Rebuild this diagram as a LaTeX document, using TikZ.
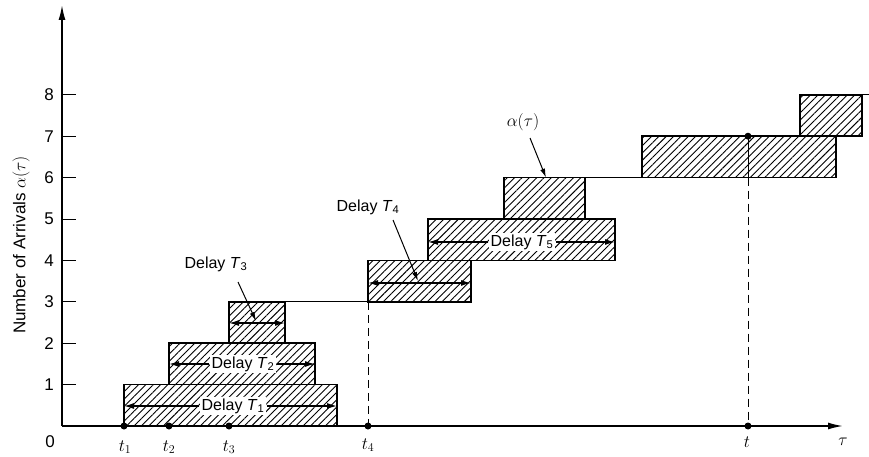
\documentclass[tikz,border=0pt]{standalone}
\usepackage{fontspec}
\setmainfont{Liberation Sans}
\usetikzlibrary{patterns.meta,arrows.meta}
\begin{document}
\begin{tikzpicture}[x=1pt,y=-1pt,
  hatchbox/.style={draw, line width=1.5pt, pattern={Lines[angle=45,distance=5.2pt,line width=0.9pt]}},
  stair/.style={line width=1.3pt},
  axis/.style={line width=1.6pt,-{Latex[length=15pt,width=7pt]}},
  tick/.style={line width=1pt},
  darrow/.style={line width=1.3pt,-{Latex[length=10pt,width=6pt]}},
  leader/.style={line width=1pt,-{Latex[length=9pt,width=5pt]}},
  lbl/.style={font=\fontsize{16}{18}\selectfont, inner sep=1pt},
  numlbl/.style={font=\fontsize{17}{19}\selectfont, inner sep=1pt},
  tlbl/.style={font=\fontsize{18}{20}\selectfont, inner sep=1pt},
  dlabel/.style={lbl, fill=white, inner sep=2pt},
  dot/.style={circle, fill=black, inner sep=0pt, minimum size=7pt},
  vdash/.style={line width=1pt, dash pattern=on 8pt off 5pt},
]
\useasboundingbox (0,0) rectangle (869,457);

% axes
\coordinate (O) at (62,426);
\coordinate (xend) at (843,426);
\coordinate (yend) at (62,5);
\draw[axis] (O) -- (xend);
\draw[axis] (O) -- (yend);

% ticks and labels
\foreach \n/\yy in {1/384.6,2/343.2,3/301.8,4/260.4,5/219,6/177.6,7/136.2,8/94.8}{
  \draw[tick] (62,\yy) -- (76,\yy);
  \node[numlbl] (n\n) at (49,\yy) {\n};
}
\node[numlbl] (n0) at (50,442) {0};
\node[numlbl, rotate=90] (ylab) at (21,245) {Number of Arrivals $\alpha(\tau)$};

% hatched boxes
\draw[hatchbox] (124,426) rectangle (337,384.6);
\draw[hatchbox] (169,384.6) rectangle (315,343.2);
\draw[hatchbox] (229,343.2) rectangle (285,301.8);
\draw[hatchbox] (368,301.8) rectangle (471,260.4);
\draw[hatchbox] (428,260.4) rectangle (615,219);
\draw[hatchbox] (504,219) rectangle (585,177.6);
\draw[hatchbox] (642,177.6) rectangle (836,136.2);
\draw[hatchbox] (800,136.2) rectangle (862,94.8);

% staircase connecting lines
\draw[stair] (285,301.8) -- (368,301.8);
\draw[stair] (585,177.6) -- (642,177.6);
\draw[stair] (862,94.8) -- (869,94.8);

% dashed verticals
\draw[vdash] (368,301.8) -- (368,426);
\draw[line width=1pt] (748,136.2) -- (748,177.6);
\draw[vdash] (748,177.6) -- (748,426);

% dots
\node[dot] (p1) at (124,426) {};
\node[dot] (p2) at (169,426) {};
\node[dot] (p3) at (229,426) {};
\node[dot] (p4) at (368,426) {};
\node[dot] (pt) at (748,426) {};
\node[dot] (pa) at (748,136.2) {};

% time labels
\node[tlbl] (l1) at (125,447) {$t_1$};
\node[tlbl] (l2) at (169,447) {$t_2$};
\node[tlbl] (l3) at (229,447) {$t_3$};
\node[tlbl] (l4) at (368,445) {$t_4$};
\node[tlbl] (lt) at (747,442) {$t$};
\node[tlbl] (ltau) at (843,442) {$\tau$};

% delay T1
\coordinate (a1w) at (124,406);
\coordinate (a1e) at (337,406);
\node[dlabel] (d1) at (233,406) {Delay \textit{T}\textsubscript{1}};
\draw[darrow] (d1) -- (a1w);
\draw[darrow] (d1) -- (a1e);

% delay T2
\coordinate (a2w) at (169,364);
\coordinate (a2e) at (315,364);
\node[dlabel] (d2) at (243,364) {Delay \textit{T}\textsubscript{2}};
\draw[darrow] (d2) -- (a2w);
\draw[darrow] (d2) -- (a2e);

% delay T3
\coordinate (a3w) at (229,323);
\coordinate (a3e) at (285,323);
\coordinate (a3m) at (256,321);
\draw[darrow,{Latex[length=10pt,width=6pt]}-{Latex[length=10pt,width=6pt]}] (a3w) -- (a3e);
\node[lbl] (d3) at (216,264) {Delay \textit{T}\textsubscript{3}};
\draw[leader] (238,282) -- (a3m);

% delay T4
\coordinate (a4w) at (368,283);
\coordinate (a4e) at (471,283);
\coordinate (a4m) at (418,281);
\draw[darrow,{Latex[length=10pt,width=6pt]}-{Latex[length=10pt,width=6pt]}] (a4w) -- (a4e);
\node[lbl] (d4) at (368,207) {Delay \textit{T}\textsubscript{4}};
\draw[leader] (393,220) -- (a4m);

% delay T5
\coordinate (a5w) at (428,242);
\coordinate (a5e) at (615,242);
\node[dlabel] (d5) at (522,242) {Delay \textit{T}\textsubscript{5}};
\draw[darrow] (d5) -- (a5w);
\draw[darrow] (d5) -- (a5e);

% alpha(tau)
\node[tlbl] (al) at (523,122) {$\alpha(\tau)$};
\coordinate (alt) at (546,177.6);
\draw[leader] (530,138) -- (alt);
\end{tikzpicture}
\end{document}
